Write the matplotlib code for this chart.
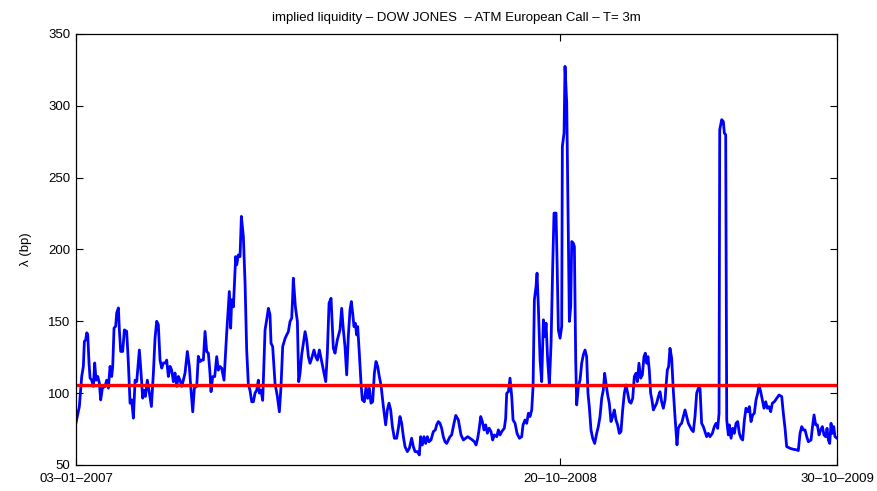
import numpy as np
import matplotlib
matplotlib.use("Agg")
import matplotlib.pyplot as plt

plt.rcParams['font.family'] = ['Liberation Sans', 'DejaVu Sans']

# days since 03-01-2007
days = [0, 4.5, 7.7, 9.9, 11.3, 13.1, 14.5, 15.8, 17.6, 19.0, 21.2, 23.5, 25.3, 27.1, 29.4, 31.6,
        33.4, 35.7, 39.3, 41.5, 43.8, 46.1, 48.3, 49.7, 51.5, 53.7, 55.1, 57.4, 58.7, 60.5, 63.2,
        65.5, 68.6, 70.9, 73.2, 75.4, 77.7, 80.0, 82.2, 85.8, 88.1, 90.3, 92.1, 94.0, 96.6, 99.4,
        102.1, 104.8, 107.0, 109.3, 111.5, 113.8, 116.1, 118.3, 121.0, 122.8, 125.1, 127.4, 129.6,
        131.9, 134.1, 136.4, 138.6, 140.9, 143.2, 145.4, 147.7, 150.8, 153.5, 155.4, 158.1, 160.3,
        163.5, 165.7, 168.0, 170.3, 172.5,
        174.8, 177.0, 179.3, 181.5, 182.9, 185.2, 187.9, 190.6, 192.8, 195.1, 197.4, 200.5, 204.1,
        207.7, 209.5, 210.9, 213.2, 216.3, 217.7, 219.9, 222.2, 224.0, 226.7, 229.0, 231.2, 233.5,
        235.7, 238.0, 240.3, 242.5, 244.8, 247.0, 248.4, 250.6, 252.9, 256.1, 258.3, 260.6, 262.8,
        264.2, 266.4, 269.6, 272.8, 275.5, 277.7, 280.0, 283.2, 285.4, 287.7, 289.9, 292.2, 293.5,
        294.4, 297.2, 299.9, 301.7, 303.5, 305.7, 308.0, 310.3, 312.5, 314.8, 317.0, 319.3, 322.4,
        324.7, 327.0, 329.7, 331.9, 335.1, 338.3, 340.5, 342.8, 345.5,
        348.6, 350.9, 354.0, 357.6, 359.9, 362.2, 364.4, 366.7, 368.9, 371.2, 373.0, 374.8, 376.6,
        378.4, 380.2, 381.6, 383.8, 386.1, 387.9, 390.6, 392.9, 395.1, 397.4, 399.6, 401.9, 404.2,
        406.4, 408.7, 410.9, 413.2, 416.4, 419.5, 421.8, 424.0, 426.3, 428.6, 431.3, 434.4, 436.7,
        438.9, 441.2, 443.5, 445.7, 448.9, 451.6, 454.7, 457.0, 459.3, 462.4, 465.1, 466.9, 469.2,
        471.4, 473.7, 476.0, 478.2, 480.9, 484.1, 486.8, 488.6, 490.9, 493.1, 495.4, 497.6, 499.9,
        502.2, 504.4, 506.7, 508.9, 512.1, 514.5,
        518.0, 521.6, 524.8, 528.0, 530.7, 533.8, 537.0, 539.7, 542.0, 544.2, 546.0, 548.3, 550.5,
        552.8, 555.0, 557.3, 559.6, 562.3, 564.5, 566.8, 570.0, 572.2, 574.5, 576.7, 580.3, 582.1,
        583.5, 585.8, 588.0, 590.3, 592.1, 594.8, 597.5, 600.7, 603.8, 605.6, 608.3, 610.6, 612.9,
        615.1, 617.4, 619.2, 621.0, 623.2, 624.6, 626.4, 628.7, 630.9, 633.2, 635.4, 636.8, 639.0,
        641.3, 643.6, 645.8, 647.6, 650.3, 651.7, 653.5, 655.8, 658.0, 658.9, 661.2, 662.5, 664.8,
        666.6, 668.4, 670.2, 671.6, 673.8, 675.2, 677.0, 678.3, 680.6, 682.9,
        685.1, 687.3, 689.6, 691.8, 693.6, 695.4, 697.7, 700.0, 702.7, 705.4, 707.6, 709.9, 712.2,
        714.4, 716.2, 718.0, 720.3, 722.5, 724.8, 727.1, 729.3, 731.6, 733.8, 736.1, 738.3, 740.6,
        742.9, 745.1, 747.4, 749.6, 751.9, 754.2, 756.4, 758.7, 760.5, 762.7, 765.0, 767.3, 769.5,
        771.3, 773.1, 774.9, 776.7, 778.5, 780.3, 782.2, 784.4, 786.7, 788.9, 791.2, 793.4, 795.7,
        798.0, 799.3, 801.1, 802.9, 804.7, 807.0, 809.2, 811.5, 814.2, 816.0, 818.3, 820.5, 822.8,
        825.1, 827.3, 829.6, 831.8, 834.1, 836.3, 838.6, 840.9, 843.1, 845.4, 847.6, 849.9, 852.2,
        854.4, 856.7, 858.9,
        862.1, 864.8, 867.1, 869.4, 871.2, 872.1, 874.8, 877.0, 878.4, 880.2, 881.6, 883.8, 885.2,
        887.4, 889.7, 891.9, 894.2, 896.5, 898.7, 901.0, 903.2, 905.5, 907.7, 910.0, 912.3, 914.5,
        916.8, 919.0, 921.3, 923.6, 925.4, 927.6, 929.9, 932.1, 934.4, 936.6, 938.9, 941.2, 943.4,
        946.1, 949.3, 952.5, 956.1, 958.3, 960.6, 962.8, 967.4, 971.9, 976.4, 978.6, 980.9, 983.2,
        985.4, 987.7, 990.0, 992.2, 995.8, 998.1, 999.9, 1002.1, 1004.4, 1006.7, 1008.9, 1011.2,
        1013.4, 1015.7, 1017.5, 1019.3, 1021.1, 1022.9, 1024.7, 1026.5, 1028.3, 1031.0]

# implied liquidity in bp
lam = [79.5, 90.7, 111.6, 118.6, 136, 137, 142, 141, 121, 110.5, 109, 104.7, 121, 109, 111.6, 107,
       95.3, 103.5, 104.7, 109, 103.5, 118.6, 111.6, 118.6, 145.3, 146.5, 155.8, 159.3, 144, 129, 129,
       144, 143, 121, 93, 95.3, 82.6, 109, 108, 130, 114, 96.5, 102, 97.7, 109, 100,
       90.7, 114, 138, 150, 147.7, 123, 117.4, 121, 121, 123, 111.6, 118.6, 116,
       108, 114, 104.7, 111.6, 109, 104.7, 109, 114, 129, 118.6, 104.7, 87, 103.5,
       104.7, 125.6, 122, 123, 123,
       142.9, 129, 127.8, 113.8, 101, 111.5, 111.5, 125.4, 116, 118.5, 117.3, 109, 141.7,
       170.7, 145.2, 165, 160, 195, 189.3, 196.2, 195, 223, 209, 176.5, 130, 105.7,
       102, 94, 94, 100, 102, 109, 100, 102, 95, 144, 151, 159, 154.5,
       134.7, 132.4, 106.9, 97.6, 87, 104.5, 132.4, 138, 140.5, 142.8, 149.8, 152.2, 167,
       180, 160, 149.8, 108, 113.8, 126.6, 134.7, 142.8, 137, 125.4, 120.8, 124.3, 130,
       125.4, 123, 130, 124.3, 116, 108, 127.8, 162.6, 166,
       131.3, 127.8, 137, 144, 159, 144, 132.4, 112.7, 139.4, 158, 163.7, 155.6, 146.3,
       148.6, 140.5, 146.3, 127.8, 106.9, 95.3, 94, 104.5, 96.4, 103.4, 93, 94, 113.8,
       122, 118.5, 111.5, 105.7, 90.6, 77.9, 88.3, 93, 88.3, 76.7, 68.6, 68.6, 75.5,
       83.7, 79, 69.7, 62.8, 59.3, 61.6, 68.6, 62.8, 59.3, 59.3, 57, 69.7, 63.9,
       69.7, 65, 69.7, 66.2, 67.4, 73.2, 74.4, 77.9, 80.2, 79, 75.5, 69.7, 66.2,
       65, 67.4, 69.7, 70.9, 79, 84.5,
       81.3, 70.9, 67.4, 68.6, 69.7, 68.6, 67.4, 66.2, 63.9, 68.6, 74.4, 83.7, 80.2,
       74.4, 77.9, 72.1, 75.6, 73.2, 67.4, 70.9, 69.7, 74.4, 70.9, 73.2, 75.6, 82.5,
       99.9, 101, 110.4, 97.6, 81.3, 79, 72, 68.6, 69.7, 77.8, 81.3, 79, 86,
       83.7, 88.3, 104.5, 165, 174, 183.5, 160, 123, 108, 151, 139.4, 148.7, 123,
       105.7, 134.7, 188, 225.3, 225.3, 192.7, 144, 138.2, 146.4, 271.7, 281, 327.4, 302,
       227.6, 149.9, 160.3, 205.5, 204.3, 202, 123, 91.8, 104.5, 109.2,
       120.8, 126.6, 130, 125.4, 100, 90.6, 74.4, 68.6, 65, 72, 76.7, 83.7, 96.4,
       102.2, 113.8, 106.9, 98.7, 93, 80.2, 83.7, 88.3, 81.3, 77.9, 72, 73.2, 88.3,
       100, 105.7, 100, 94, 93, 96.4, 111.5, 113.8, 108, 120.8, 110.4, 112.7, 125.4,
       127.8, 120.8, 125.4, 116, 100, 95.2, 88.3, 90.6, 93, 97.6, 101, 94, 89.5,
       95.2, 104.5, 116, 118.5, 131.2, 124.3, 102.2, 83.7, 64, 75.5, 77.9, 79, 83.7,
       88.3, 83.7, 79, 76.7, 74.4, 73.2, 83.7, 100, 103.4, 103.4, 79, 76.7, 73.2,
       69.7, 72, 69.7,
       72, 76.7, 79, 75.5, 86, 283.3, 290.3, 289, 280.9, 279.8, 81.3, 70.9, 77.9,
       68.6, 75.5, 72, 79, 80.2, 72, 68.6, 67.4, 81.3, 89.5, 87.1, 90.6, 80.2,
       84.8, 86, 95.3, 100, 105.7, 101, 95.3, 89.5, 94, 89.5, 90.6, 87.1, 93,
       94, 96.4, 98.7, 97.6, 86, 75.5, 62.8, 61.6, 60.9, 60.5, 60, 72, 76.7,
       74.4, 74.4, 69.7, 66.2, 67.4, 77.9, 84.8, 77.9, 77.9, 70.9, 74.4, 76.7,
       70.9, 69.7, 75.5, 67.4, 65, 79, 72, 76.7, 69.7, 68.6]

mean_level = 105.5

tick_dates = ['2007-01-03', '2008-10-20', '2009-10-30']
tick_labels = ['03\u201301\u20132007', '20\u201310\u20132008', '30\u201310\u20132009']

start = np.datetime64(tick_dates[0])
tick_pos = [(np.datetime64(d) - start).astype(int) for d in tick_dates]

fig = plt.figure(figsize=(8.78, 4.91), dpi=100)
ax = fig.add_axes([0.0866, 0.053, 0.8667, 0.878])

ax.plot(days, lam, color=(0, 0, 1), lw=2.0)
ax.axhline(mean_level, color=(1, 0, 0), lw=2.4)

ax.set_xlim(tick_pos[0], tick_pos[-1])
ax.set_ylim(50, 350)
ax.set_xticks(tick_pos)
ax.set_xticklabels(tick_labels)
ax.set_yticks(np.arange(50, 351, 50))

ax.tick_params(direction='in', top=True, right=True, length=5, width=0.8,
               labelsize=9.5)
ax.tick_params(axis='x', pad=6)
ax.tick_params(axis='y', pad=4)
for s in ax.spines.values():
    s.set_linewidth(0.9)

ax.set_ylabel('\u03bb (bp)', fontsize=9.5, labelpad=12)
ax.set_title('implied liquidity \u2013 DOW JONES  \u2013 ATM European Call \u2013 T= 3m',
             fontsize=9.5, pad=9)

fig.savefig('out.png', dpi=100)
